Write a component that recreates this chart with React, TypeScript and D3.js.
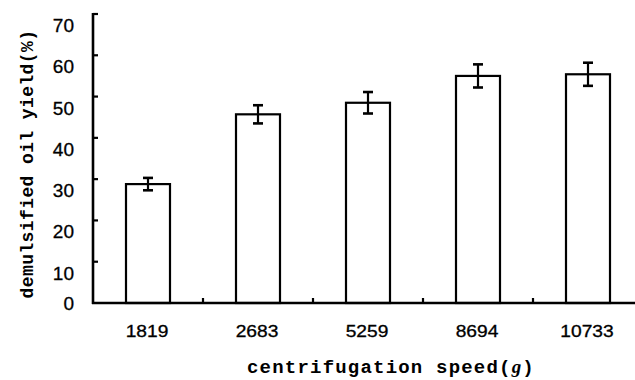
import React from "react";
import * as d3 from "d3";

const categories = ["1819", "2683", "5259", "8694", "10733"];
const yieldValues = [28.8, 45.7, 48.5, 55.0, 55.4];
const errorValues = [1.5, 2.2, 2.6, 2.8, 2.8];
const yTicks = [0, 10, 20, 30, 40, 50, 60, 70];

const W = 635;
const H = 380;
const x0 = 93;
const x1 = 643;
const y0 = 303;
const yTop = 14;

export default function App() {
  const x = d3.scaleBand<string>().domain(categories).range([x0, x1]).paddingInner(0).paddingOuter(0);
  const y = d3.scaleLinear().domain([0, 70]).range([y0, yTop]);
  const bw = x.bandwidth() * 0.4;
  const boundaries = categories.map((c) => (x(c) as number) + x.bandwidth());
  return (
    <svg
      width={W}
      height={H}
      style={{ position: "absolute", left: 0, top: 0, background: "#fff" }}
    >
      {/* bars */}
      {categories.map((c, i) => {
        const cx = (x(c) as number) + x.bandwidth() / 2;
        const v = yieldValues[i];
        const e = errorValues[i];
        return (
          <g key={c}>
            <rect
              x={cx - bw / 2}
              y={y(v)}
              width={bw}
              height={y(0) - y(v)}
              fill="#fff"
              stroke="#000"
              strokeWidth={2.2}
            />
            <line x1={cx} x2={cx} y1={y(v + e)} y2={y(v - e)} stroke="#000" strokeWidth={2.2} />
            <line x1={cx - 5} x2={cx + 5} y1={y(v + e)} y2={y(v + e)} stroke="#000" strokeWidth={2.6} />
            <line x1={cx - 5} x2={cx + 5} y1={y(v - e)} y2={y(v - e)} stroke="#000" strokeWidth={2.6} />
          </g>
        );
      })}
      {/* y axis */}
      <line x1={x0} x2={x0} y1={y(70) - 1} y2={y0 + 1} stroke="#000" strokeWidth={2.6} />
      {yTicks.map((t) => (
        <g key={t}>
          {t > 0 && <line x1={x0} x2={x0 + 5} y1={y(t)} y2={y(t)} stroke="#000" strokeWidth={2.2} />}
          <text
            x={74}
            y={y(t) + (t === 0 ? 7 : 18)}
            textAnchor="end"
            fontFamily="Liberation Sans, Arial, sans-serif"
            fontSize={19}
            fill="#000"
            stroke="#000"
            strokeWidth={0.3}
          >
            {t}
          </text>
        </g>
      ))}
      {/* x axis */}
      <line x1={x0 - 1} x2={W} y1={y0} y2={y0} stroke="#000" strokeWidth={2.6} />
      {boundaries.map((b, i) => (
        <line key={i} x1={b} x2={b} y1={y0} y2={y0 - 5} stroke="#000" strokeWidth={2.2} />
      ))}
      {categories.map((c) => {
        const cx = (x(c) as number) + x.bandwidth() / 2 - 1;
        return (
          <text
            key={c}
            transform={`translate(${cx},337) scale(1.2,1)`}
            textAnchor="middle"
            fontFamily="Liberation Sans, Arial, sans-serif"
            fontSize={16}
            fill="#000"
            stroke="#000"
            strokeWidth={0.3}
          >
            {c}
          </text>
        );
      })}
      {/* axis titles */}
      <text
        x={391}
        y={373}
        textAnchor="middle"
        fontFamily="Liberation Mono, DejaVu Sans Mono, monospace"
        fontWeight="bold"
        fontSize={19}
        letterSpacing={1.2}
        fill="#000"
      >
        centrifugation speed(<tspan fontStyle="italic" fontFamily="Liberation Serif, serif">g</tspan>)
      </text>
      <text
        transform={`translate(33,164) rotate(-90)`}
        textAnchor="middle"
        fontFamily="Liberation Mono, DejaVu Sans Mono, monospace"
        fontWeight="bold"
        fontSize={18}
        letterSpacing={0.4}
        fill="#000"
      >
        demulsified oil yield(%)
      </text>
    </svg>
  );
}
